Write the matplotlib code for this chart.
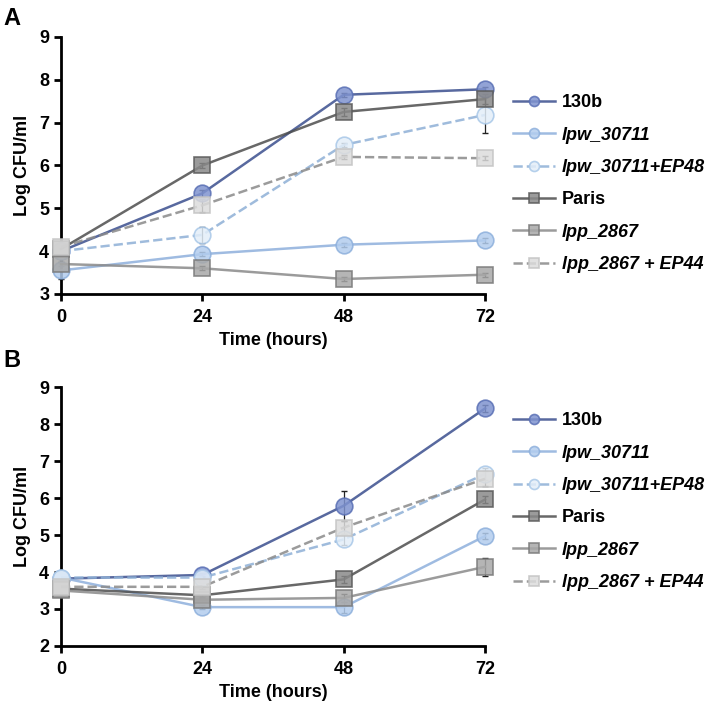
import matplotlib
matplotlib.use('Agg')
import matplotlib.pyplot as plt

plt.rcParams['font.family'] = ['Liberation Sans', 'DejaVu Sans']
plt.rcParams['font.weight'] = 'bold'

hours = [0, 24, 48, 72]
strains = ['130b', 'lpw_30711', 'lpw_30711+EP48', 'Paris', 'lpp_2867', 'lpp_2867 + EP44']
italic = [False, True, True, False, True, True]

# panel A values (Log CFU/ml) and error bars
a_vals = {
    '130b':            [4.00, 5.35, 7.65, 7.78],
    'lpw_30711':       [3.55, 3.93, 4.15, 4.25],
    'lpw_30711+EP48':  [4.00, 4.38, 6.48, 7.18],
    'Paris':           [4.05, 6.00, 7.25, 7.55],
    'lpp_2867':        [3.70, 3.60, 3.35, 3.45],
    'lpp_2867 + EP44': [4.10, 5.07, 6.20, 6.17],
}
a_err = {
    '130b':            [0.05, 0.08, 0.05, 0.05],
    'lpw_30711':       [0.20, 0.05, 0.05, 0.05],
    'lpw_30711+EP48':  [0.05, 0.18, 0.05, 0.42],
    'Paris':           [0.05, 0.05, 0.10, 0.12],
    'lpp_2867':        [0.05, 0.05, 0.05, 0.05],
    'lpp_2867 + EP44': [0.10, 0.15, 0.05, 0.05],
}

# panel B values
b_vals = {
    '130b':            [3.82, 3.92, 5.79, 8.42],
    'lpw_30711':       [3.85, 3.05, 3.05, 4.97],
    'lpw_30711+EP48':  [3.85, 3.85, 4.88, 6.65],
    'Paris':           [3.55, 3.37, 3.80, 5.96],
    'lpp_2867':        [3.50, 3.25, 3.30, 4.14],
    'lpp_2867 + EP44': [3.60, 3.60, 5.20, 6.52],
}
b_err = {
    '130b':            [0.05, 0.05, 0.40, 0.10],
    'lpw_30711':       [0.05, 0.05, 0.15, 0.08],
    'lpw_30711+EP48':  [0.05, 0.05, 0.15, 0.15],
    'Paris':           [0.05, 0.05, 0.10, 0.10],
    'lpp_2867':        [0.05, 0.05, 0.10, 0.25],
    'lpp_2867 + EP44': [0.05, 0.05, 0.17, 0.20],
}

styles = {
    '130b':            dict(color='#3b4f8e', marker='o', mfc='#7f93cf', mec='#5a70b5', ls='-'),
    'lpw_30711':       dict(color='#8eb0dc', marker='o', mfc='#b3cdee', mec='#8eb0dc', ls='-'),
    'lpw_30711+EP48':  dict(color='#8eb0d6', marker='o', mfc='#e3eef9', mec='#a9c8e8', ls='--'),
    'Paris':           dict(color='#4d4d4d', marker='s', mfc='#8a8a8a', mec='#5a5a5a', ls='-'),
    'lpp_2867':        dict(color='#8a8a8a', marker='s', mfc='#a8a8a8', mec='#7a7a7a', ls='-'),
    'lpp_2867 + EP44': dict(color='#8a8a8a', marker='s', mfc='#dcdcdc', mec='#c4c4c4', ls='--'),
}


def draw_panel(ax, vals, errs, ylim, legend_y):
    handles = []
    for name in strains:
        st = styles[name]
        ax.errorbar(hours, vals[name], yerr=errs[name], fmt='none',
                    ecolor='#222222', elinewidth=0.9, capsize=2.5, capthick=1.0,
                    zorder=2, clip_on=False)
        line, = ax.plot(hours, vals[name], color=st['color'], ls=st['ls'],
                        lw=1.8, marker=st['marker'], ms=12, mfc=st['mfc'],
                        mec=st['mec'], mew=1.2, alpha=0.85, label=name,
                        clip_on=False, zorder=3)
        handles.append(line)
    ax.set_xlim(0, 72)
    ax.set_ylim(*ylim)
    ax.set_xticks(hours)
    ax.set_yticks(range(ylim[0], ylim[1] + 1))
    ax.tick_params(labelsize=13, width=2, length=5, direction='out')
    for lab in ax.get_xticklabels() + ax.get_yticklabels():
        lab.set_fontweight('bold')
    ax.tick_params(axis='x', pad=6)
    for sp in ['top', 'right']:
        ax.spines[sp].set_visible(False)
    for sp in ['left', 'bottom']:
        ax.spines[sp].set_linewidth(2)
    ax.set_xlabel('Time (hours)', fontsize=13, fontweight='bold', labelpad=4)
    ax.set_ylabel('Log CFU/ml', fontsize=13, fontweight='bold', labelpad=6)
    leg = ax.legend(handles=handles, loc='upper left',
                    bbox_to_anchor=(1.05, legend_y), frameon=False,
                    fontsize=13, handlelength=2.3, handletextpad=0.4,
                    labelspacing=0.85, markerscale=0.6, borderaxespad=0)
    for txt, it in zip(leg.get_texts(), italic):
        txt.set_fontweight('bold')
        if it:
            txt.set_fontstyle('italic')


fig = plt.figure(figsize=(7.11, 7.06), dpi=100)
ax_a = fig.add_axes([0.0858, 0.5836, 0.5963, 0.364])
ax_b = fig.add_axes([0.0858, 0.0850, 0.5963, 0.3668])

draw_panel(ax_a, a_vals, a_err, (3, 9), 0.805)
draw_panel(ax_b, b_vals, b_err, (2, 9), 0.93)

fig.text(0.005, 0.99, 'A', fontsize=17, fontweight='bold', va='top')
fig.text(0.005, 0.505, 'B', fontsize=17, fontweight='bold', va='top')

fig.savefig('out.png', dpi=100)
